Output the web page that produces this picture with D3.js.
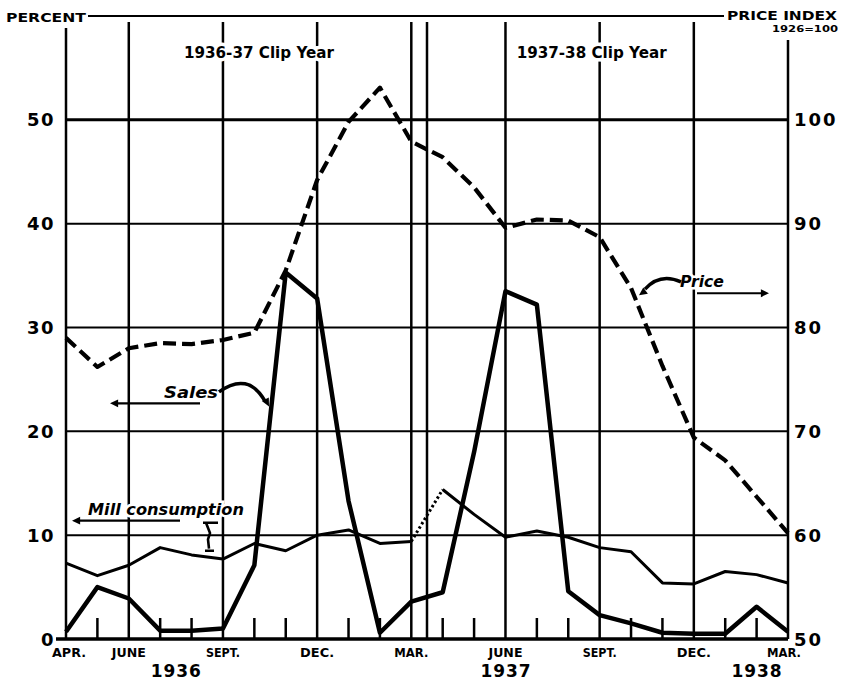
<!DOCTYPE html>
<html>
<head>
<meta charset="utf-8">
<script src="https://cdn.jsdelivr.net/npm/d3@7"></script>
<style>
  html, body { margin: 0; padding: 0; background: #fff; }
  svg { display: block; }
  text { font-family: "DejaVu Sans", "Liberation Sans", sans-serif; fill: #000; }
</style>
</head>
<body>
<svg id="chart" width="850" height="682"></svg>
<script>
// ---------- DATA ----------
const months = ["1936-04","1936-05","1936-06","1936-07","1936-08","1936-09","1936-10","1936-11","1936-12",
                "1937-01","1937-02","1937-03","1937-04","1937-05","1937-06","1937-07","1937-08","1937-09",
                "1937-10","1937-11","1937-12","1938-01","1938-02","1938-03"];
// Sales, percent of clip
const sales = [0.7, 5.0, 3.9, 0.8, 0.8, 1.0, 7.1, 35.3, 32.8, 13.3, 0.6, 3.6,
               4.5, 18.0, 33.5, 32.2, 4.6, 2.3, 1.5, 0.6, 0.5, 0.5, 3.1, 0.7];
// Mill consumption, percent
const mill = [7.3, 6.1, 7.1, 8.8, 8.1, 7.7, 9.2, 8.5, 10.0, 10.5, 9.2, 9.4,
              14.4, 12.0, 9.8, 10.4, 9.8, 8.8, 8.4, 5.4, 5.3, 6.5, 6.2, 5.4];
// Price index, 1926 = 100
const price = [79.0, 76.2, 78.0, 78.5, 78.4, 78.8, 79.5, 85.5, 94.2, 99.8, 103.1, 97.9,
               96.4, 93.5, 89.6, 90.4, 90.3, 88.7, 83.8, 76.3, 69.4, 67.2, 63.7, 60.2];
const leftTicks = [0, 10, 20, 30, 40, 50];
const rightTicks = [50, 60, 70, 80, 90, 100];
const majorMonths = ["1936-04","1936-06","1936-09","1936-12","1937-03","1937-06","1937-09","1937-12","1938-03"];
const monthLabels = ["APR.","JUNE","SEPT.","DEC.","MAR.","JUNE","SEPT.","DEC.","MAR."];
const yearLabels = ["1936","1937","1938"];
const clipYears = ["1936-37 Clip Year","1937-38 Clip Year"];

// ---------- SCALES ----------
const svg = d3.select("#chart");
const idx = m => months.indexOf(m);
const x = d3.scaleLinear().domain([0, months.length - 1]).range([66, 788]);
const yL = d3.scaleLinear().domain([0, 60]).range([639, 16]);
const yR = d3.scaleLinear().domain([50, 110]).range([639, 16]);

const g = svg.append("g");

// horizontal gridlines
g.selectAll("line.hgrid").data(leftTicks.filter(d => d > 0)).join("line")
  .attr("x1", x(0)).attr("x2", x(23))
  .attr("y1", d => yL(d)).attr("y2", d => yL(d))
  .attr("stroke", "#000").attr("stroke-width", d => d === 50 ? 3 : 2);

// top line (60 level)
g.append("line").attr("x1", 88).attr("x2", 724)
  .attr("y1", yL(60)).attr("y2", yL(60)).attr("stroke", "#000").attr("stroke-width", 2);

// vertical major lines
g.selectAll("line.vgrid").data(majorMonths).join("line")
  .attr("x1", d => x(idx(d))).attr("x2", d => x(idx(d)))
  .attr("y1", (d, i) => i === 0 ? 28 : (i === majorMonths.length - 1 ? 40 : 22))
  .attr("y2", yL(0))
  .attr("stroke", "#000").attr("stroke-width", 2.5);
// clip-year separator (between March and April 1937)
g.append("line")
  .attr("x1", x(idx("1937-03") + 0.5)).attr("x2", x(idx("1937-03") + 0.5))
  .attr("y1", 22).attr("y2", yL(0)).attr("stroke", "#000").attr("stroke-width", 2.5);

// minor month ticks
g.selectAll("line.mtick").data(months.filter(m => !majorMonths.includes(m))).join("line")
  .attr("x1", d => x(idx(d))).attr("x2", d => x(idx(d)))
  .attr("y1", yL(0) - 21).attr("y2", yL(0))
  .attr("stroke", "#000").attr("stroke-width", 2.5);

// baseline
g.append("line").attr("x1", x(0) - 10).attr("x2", x(23))
  .attr("y1", yL(0)).attr("y2", yL(0)).attr("stroke", "#000").attr("stroke-width", 3.5);

// ---------- SERIES ----------
const lineL = d3.line().x((d, i) => x(i)).y(d => yL(d));
const lineR = d3.line().x((d, i) => x(i)).y(d => yR(d));

// mill consumption: solid, except the dotted link across the clip-year break
const iMar = idx("1937-03");
const millSolid1 = mill.map((v, i) => i <= iMar ? v : null);
const millSolid2 = mill.map((v, i) => i >= iMar + 1 ? v : null);
const lineLdef = d3.line().defined(d => d !== null).x((d, i) => x(i)).y(d => yL(d));
g.append("path").attr("d", lineLdef(millSolid1)).attr("fill", "none")
  .attr("stroke", "#000").attr("stroke-width", 3).attr("stroke-linejoin", "round");
g.append("path").attr("d", lineLdef(millSolid2)).attr("fill", "none")
  .attr("stroke", "#000").attr("stroke-width", 3).attr("stroke-linejoin", "round");
g.append("path").attr("d", lineLdef(mill.map((v, i) => (i === iMar || i === iMar + 1) ? v : null)))
  .attr("fill", "none").attr("stroke", "#000").attr("stroke-width", 3)
  .attr("stroke-dasharray", "2.5,2.5");

// price: dashed
g.append("path").attr("d", lineR(price)).attr("fill", "none")
  .attr("stroke", "#000").attr("stroke-width", 4.2)
  .attr("stroke-dasharray", "13,6").attr("stroke-linejoin", "round");

// sales: heavy solid
g.append("path").attr("d", lineL(sales)).attr("fill", "none")
  .attr("stroke", "#000").attr("stroke-width", 4.5).attr("stroke-linejoin", "round");

// ---------- AXIS LABELS ----------
g.selectAll("text.lt").data(leftTicks).join("text")
  .attr("x", 55).attr("y", d => yL(d) + 6.5)
  .attr("text-anchor", "end").attr("font-size", 18).attr("font-weight", "bold")
  .attr("letter-spacing", 1.5).text(d => d);
g.selectAll("text.rt").data(rightTicks).join("text")
  .attr("x", 794).attr("y", d => yR(d) + 6.5)
  .attr("text-anchor", "start").attr("font-size", 18).attr("font-weight", "bold")
  .attr("letter-spacing", 2).text(d => d);

g.selectAll("text.mlab").data(majorMonths).join("text")
  .attr("x", d => x(idx(d)) + (idx(d) === 0 ? 3 : (idx(d) === 23 ? -4 : 0)))
  .attr("y", 657).attr("text-anchor", "middle")
  .attr("font-size", 12).attr("font-weight", "bold")
  .attr("textLength", 34).attr("lengthAdjust", "spacingAndGlyphs")
  .text((d, i) => monthLabels[i]);

const yearPos = [idx("1936-07") + 0.5, idx("1937-06"), idx("1938-02")];
g.selectAll("text.year").data(yearLabels).join("text")
  .attr("x", (d, i) => x(yearPos[i])).attr("y", 677).attr("text-anchor", "middle")
  .attr("font-size", 17).attr("font-weight", "bold")
  .attr("textLength", 50).attr("lengthAdjust", "spacing")
  .text(d => d);

// header labels
svg.append("text").attr("x", 6).attr("y", 22).attr("font-size", 12).attr("font-weight", "bold")
  .attr("textLength", 80).attr("lengthAdjust", "spacingAndGlyphs").text("PERCENT");
svg.append("text").attr("x", 727).attr("y", 20).attr("font-size", 13).attr("font-weight", "bold")
  .attr("textLength", 110).attr("lengthAdjust", "spacingAndGlyphs").text("PRICE INDEX");
svg.append("text").attr("x", 772).attr("y", 32).attr("font-size", 9).attr("font-weight", "bold")
  .attr("textLength", 66).attr("lengthAdjust", "spacingAndGlyphs").text("1926=100");

// clip year titles (white halo breaks the gridlines)
const titleX = [x(idx("1936-09")) + 36, x(idx("1937-09")) - 8];
svg.selectAll("text.clip").data(clipYears).join("text")
  .attr("x", (d, i) => titleX[i]).attr("y", 58).attr("text-anchor", "middle")
  .attr("font-size", 15).attr("font-weight", "bold")
  .attr("textLength", 150).attr("lengthAdjust", "spacingAndGlyphs")
  .attr("stroke", "#fff").attr("stroke-width", 7).attr("paint-order", "stroke")
  .style("fill", "#000").text(d => d);

// ---------- ANNOTATIONS ----------
function arrowHead(px, py, angle, size) {
  const a = angle, s = size;
  const p1 = [px - s * Math.cos(a - 0.45), py - s * Math.sin(a - 0.45)];
  const p2 = [px - s * Math.cos(a + 0.45), py - s * Math.sin(a + 0.45)];
  svg.append("path").attr("d", `M${px},${py}L${p1[0]},${p1[1]}L${p2[0]},${p2[1]}Z`).attr("fill", "#000");
}
function label(txt, lx, ly, len) {
  svg.append("text").attr("x", lx).attr("y", ly).attr("font-size", 15)
    .attr("font-weight", "bold").attr("font-style", "italic")
    .attr("textLength", len).attr("lengthAdjust", "spacingAndGlyphs")
    .attr("stroke", "#fff").attr("stroke-width", 5).attr("paint-order", "stroke")
    .style("fill", "#000").text(txt);
}
// Sales
label("Sales", 164, yL(23.2), 54);
svg.append("path").attr("d", `M200,${yL(22.7)}H116`).attr("stroke", "#000").attr("stroke-width", 2.2);
arrowHead(110, yL(22.7), Math.PI, 9);
svg.append("path").attr("d", `M219,${yL(23.8)}Q248,${yL(25.8)} 265,${yL(22.9)}`)
  .attr("fill", "none").attr("stroke", "#000").attr("stroke-width", 3.5);
arrowHead(269, yL(22.4), 1.1, 9);

// Mill consumption
label("Mill consumption", 88, yL(11.9), 156);
svg.append("path").attr("d", `M180,${yL(11.4)}H78`).attr("stroke", "#000").attr("stroke-width", 2.2);
arrowHead(72, yL(11.4), Math.PI, 9);
svg.append("path").attr("d", `M203,${yL(11.2)}H218M206,${yL(11.2)}L210,${yL(10.2)}L208,${yL(9.6)}L209,${yL(8.7)}M205,${yL(8.5)}H214`)
  .attr("fill", "none").attr("stroke", "#000").attr("stroke-width", 2.6);

// Price
label("Price", 680, yL(33.9), 44);
svg.append("path").attr("d", `M697,${yL(33.3)}H762`).attr("stroke", "#000").attr("stroke-width", 2.2);
arrowHead(769, yL(33.3), 0, 9);
svg.append("path").attr("d", `M681,${yL(34.4)}Q660,${yL(35.3)} 645,${yL(33.7)}`)
  .attr("fill", "none").attr("stroke", "#000").attr("stroke-width", 3.5);
arrowHead(639, yL(33.1), Math.PI * 0.8, 9);
</script>
</body>
</html>
